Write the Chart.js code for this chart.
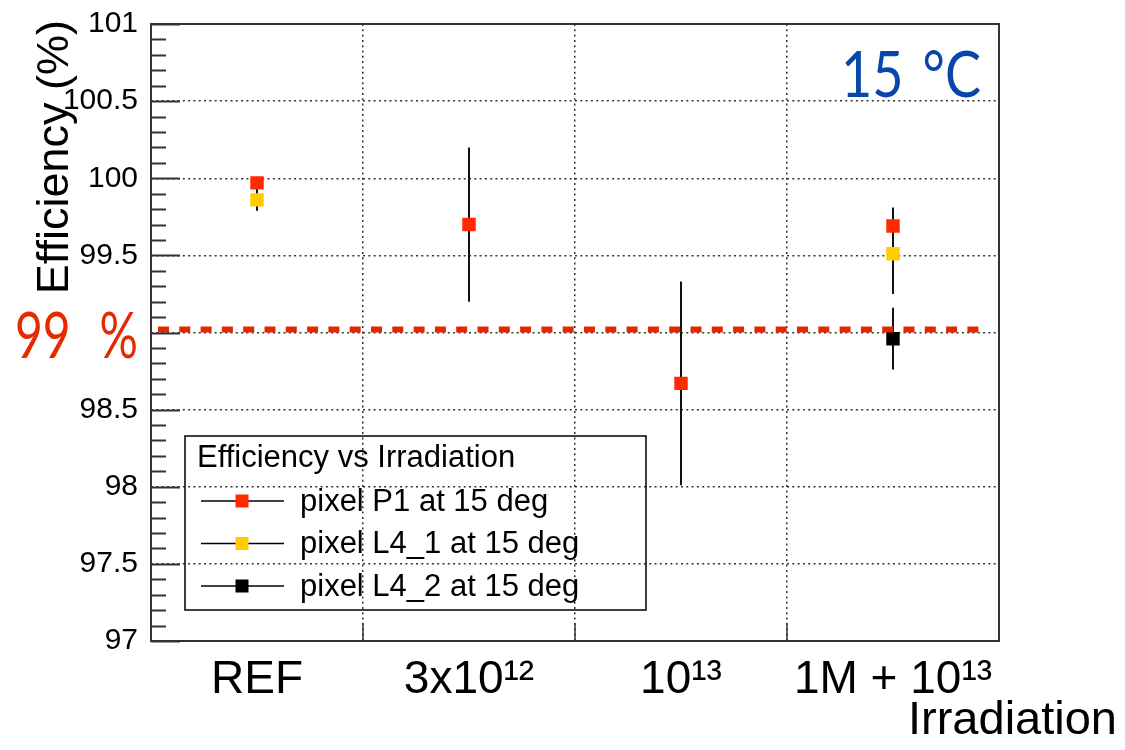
<!DOCTYPE html>
<html>
<head>
<meta charset="utf-8">
<script src="https://cdn.jsdelivr.net/npm/chart.js@4/dist/chart.umd.min.js"></script>
<style>
  html, body { margin: 0; padding: 0; background: #fff; }
  #wrap { width: 1125px; height: 750px; }
</style>
</head>
<body>
<div id="wrap"><canvas id="c" width="1125" height="750"></canvas></div>
<script>
// ---- data ----
const categories = ['REF', '3x10\u00B9\u00B2', '10\u00B9\u00B3', '1M + 10\u00B9\u00B3'];
const seriesLabels = ['pixel P1 at 15 deg', 'pixel L4_1 at 15 deg', 'pixel L4_2 at 15 deg'];
const p1Values = [99.97, 99.70, 98.67, 99.69];
const p1Errors = [0.03, 0.50, 0.66, 0.12];
const l41Values = [99.86, null, null, 99.51];
const l41Errors = [0.07, null, null, 0.26];
const l42Values = [null, null, null, 98.96];
const l42Errors = [null, null, null, 0.20];
const yMin = 97, yMax = 101, yMajorStep = 0.5, yMinorStep = 0.1;
const thresholdValue = 99.02;
const thresholdLabel = '99 %';
const temperatureLabel = '15 \u00B0C';
const legendTitle = 'Efficiency vs Irradiation';
const yTitle = 'Efficiency (%)';
const xTitle = 'Irradiation';
const seriesColors = ['#ff2a00', '#ffcc00', '#000000'];

const SANS = '"Liberation Sans", Arial, sans-serif';
const HUMAN = 'Lato, "Open Sans", sans-serif';
const errorSets = [p1Errors, l41Errors, l42Errors];

function fitText(ctx, text, x, y, width, align, wordGap) {
  ctx.save();
  ctx.wordSpacing = wordGap + 'px';
  const w = ctx.measureText(text).width;
  const s = width / w;
  const x0 = align === 'right' ? x - width : x;
  ctx.translate(x0, y);
  ctx.scale(s, 1);
  ctx.textAlign = 'left';
  ctx.fillText(text, 0, 0);
  ctx.restore();
}

const decorPlugin = {
  id: 'decor',
  beforeDatasetsDraw(chart) {
    const ctx = chart.ctx, y = chart.scales.y;
    ctx.save();
    ctx.strokeStyle = '#111';
    ctx.lineWidth = 2;
    chart.data.datasets.forEach((ds, di) => {
      const meta = chart.getDatasetMeta(di);
      ds.data.forEach((v, i) => {
        const e = errorSets[di][i];
        if (v == null || e == null) return;
        const px = meta.data[i].x;
        ctx.beginPath();
        ctx.moveTo(px, y.getPixelForValue(v + e));
        ctx.lineTo(px, y.getPixelForValue(v - e));
        ctx.stroke();
      });
    });
    ctx.restore();
  },
  afterDatasetsDraw(chart) {
    const ctx = chart.ctx, a = chart.chartArea, x = chart.scales.x, y = chart.scales.y;
    ctx.save();
    // threshold dashed line
    const ty = y.getPixelForValue(thresholdValue);
    ctx.strokeStyle = '#e22800';
    ctx.lineWidth = 6;
    ctx.setLineDash([11, 10.3]);
    ctx.beginPath();
    ctx.moveTo(a.left + 7, ty);
    ctx.lineTo(a.right - 17, ty);
    ctx.stroke();
    ctx.setLineDash([]);

    // frame
    ctx.strokeStyle = '#333';
    ctx.lineWidth = 2;
    ctx.strokeRect(a.left, a.top, a.right - a.left, a.bottom - a.top);

    // y ticks (inward), minor + major
    ctx.lineWidth = 2;
    const nMinor = Math.round((yMax - yMin) / yMinorStep);
    for (let k = 0; k <= nMinor; k++) {
      const v = yMin + k * yMinorStep;
      const isMajor = Math.abs(v / yMajorStep - Math.round(v / yMajorStep)) < 1e-6;
      const py = Math.round(y.getPixelForValue(v)) + 0.5;
      ctx.beginPath();
      ctx.moveTo(a.left, py);
      ctx.lineTo(a.left + (isMajor ? 29 : 15), py);
      ctx.stroke();
    }
    // x ticks at category boundaries
    ctx.lineWidth = 1.5;
    for (let i = 0; i < categories.length - 1; i++) {
      const px = (x.getPixelForValue(i) + x.getPixelForValue(i + 1)) / 2;
      ctx.beginPath();
      ctx.moveTo(px, a.bottom);
      ctx.lineTo(px, a.bottom - 18);
      ctx.stroke();
    }

    // legend
    const lx = a.left + 34, ltop = a.top + 412, lw = 461, lh = 174;
    ctx.strokeStyle = '#000';
    ctx.lineWidth = 1.5;
    ctx.strokeRect(lx, ltop, lw, lh);
    ctx.fillStyle = '#000';
    ctx.font = '31px ' + SANS;
    ctx.textBaseline = 'middle';
    ctx.textAlign = 'left';
    ctx.fillText(legendTitle, lx + 12, ltop + 22);
    chart.data.datasets.forEach((ds, di) => {
      const ry = ltop + 65 + di * 42.5;
      ctx.strokeStyle = '#000';
      ctx.lineWidth = 1.5;
      ctx.beginPath();
      ctx.moveTo(lx + 16, ry);
      ctx.lineTo(lx + 99, ry);
      ctx.stroke();
      ctx.fillStyle = ds.backgroundColor;
      ctx.fillRect(lx + 57 - 6.5, ry - 6.5, 13, 13);
      ctx.fillStyle = '#000';
      ctx.fillText(ds.label, lx + 115, ry + 1);
    });

    // axis titles
    ctx.fillStyle = '#000';
    ctx.font = '45px ' + SANS;
    ctx.save();
    ctx.translate(68, 20);
    ctx.rotate(-Math.PI / 2);
    ctx.textAlign = 'right';
    ctx.textBaseline = 'alphabetic';
    ctx.fillText(yTitle, 0, 0);
    ctx.restore();

    ctx.font = '47px ' + SANS;
    ctx.textAlign = 'right';
    ctx.textBaseline = 'alphabetic';
    ctx.fillText(xTitle, 1117, 734);

    // annotations
    ctx.textBaseline = 'alphabetic';
    ctx.font = '63px ' + HUMAN;
    ctx.fillStyle = '#fff';
    ctx.fillRect(12, 308, 128, 56);
    ctx.fillStyle = '#e62a00';
    fitText(ctx, thresholdLabel, 15, 358, 123, 'left', 22);
    ctx.fillStyle = '#0846aa';
    fitText(ctx, temperatureLabel, 981, 97, 140, 'right', 6);
    ctx.restore();
  }
};

function mkDataset(i, values) {
  return {
    label: seriesLabels[i],
    data: values,
    showLine: false,
    pointStyle: 'rect',
    pointRadius: 9.5,
    pointHoverRadius: 9.5,
    pointBorderWidth: 0,
    backgroundColor: seriesColors[i],
    borderColor: seriesColors[i]
  };
}

new Chart(document.getElementById('c'), {
  type: 'line',
  data: {
    labels: categories,
    datasets: [mkDataset(0, p1Values), mkDataset(1, l41Values), mkDataset(2, l42Values)]
  },
  options: {
    responsive: false,
    animation: false,
    devicePixelRatio: 1,
    layout: { padding: { top: 24, right: 126, left: 0, bottom: 0 } },
    plugins: { legend: { display: false }, tooltip: { enabled: false } },
    scales: {
      x: {
        type: 'category',
        offset: true,
        grid: { offset: true, drawTicks: false, color: '#333', lineWidth: 1.5 },
        border: { display: false, dash: [2, 3.3] },
        ticks: { font: { family: SANS, size: 46 }, color: '#000', padding: 12, maxRotation: 0, autoSkip: false },
        afterFit(s) { s.height = 109; s.paddingLeft = 0; s.paddingRight = 0; }
      },
      y: {
        min: yMin, max: yMax,
        grid: { drawTicks: false, color: '#333', lineWidth: 1.5 },
        border: { display: false, dash: [2, 3.3] },
        ticks: {
          stepSize: yMajorStep,
          font: { family: SANS, size: 30 },
          color: '#000',
          padding: 13,
          callback: (v) => String(Math.round(v * 10) / 10)
        },
        afterFit(s) { s.width = 151; s.paddingTop = 0; s.paddingBottom = 0; }
      }
    }
  },
  plugins: [decorPlugin]
});
</script>
</body>
</html>
